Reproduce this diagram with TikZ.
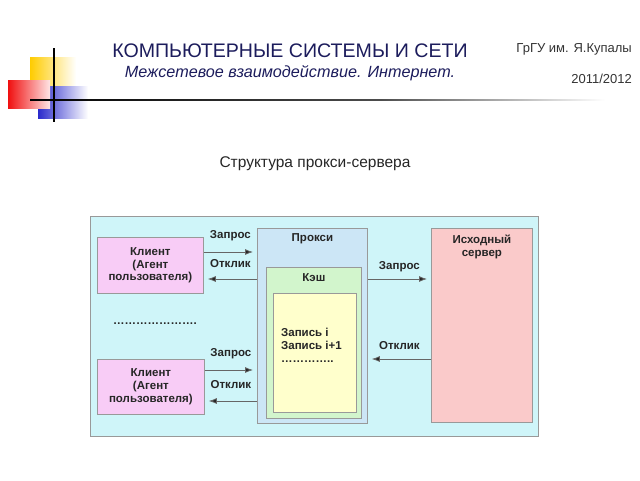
\documentclass[tikz,border=0pt]{standalone}
\usepackage{fontspec}
\setmainfont{Liberation Sans}
\usetikzlibrary{arrows.meta,
	calc,
	positioning}

\definecolor{titleblue}{HTML}{1C1C5C}
\definecolor{logoyellow}{HTML}{FFCC00}
\definecolor{logored}{HTML}{F01010}
\definecolor{logoblue}{HTML}{2A2ACC}
\definecolor{netfill}{HTML}{CFF5F9}
\definecolor{proxyfill}{HTML}{CCE6F6}
\definecolor{cachefill}{HTML}{D2F5CC}
\definecolor{recfill}{HTML}{FFFFCC}
\definecolor{clientfill}{HTML}{F8CCF6}
\definecolor{serverfill}{HTML}{FACACA}

\begin{document}
\begin{tikzpicture}[x=1pt,y=-1pt]
    \tikzstyle{box}=[draw=black!40,line width=0.8pt,inner sep=0pt,anchor=north west]
    \tikzstyle{lbl}=[font=\bfseries\fontsize{11.5}{12.8}\selectfont,text=black!85,align=center,inner sep=0pt]
    \tikzstyle{arr}=[draw=black!60,line width=0.8pt,-{Latex[length=8pt,width=6pt,fill=black!85]},shorten >=4pt]
    \useasboundingbox (0,0) rectangle (640,480);
    % logo
    \shade[left color=logoyellow,right color=white] (30,57) rectangle (76,86);
    \shade[left color=logoblue,right color=white] (38,86) rectangle (88,118);
    \shade[left color=logored,right color=red!10] (8,80) rectangle (50,108);
    \shade[left color=black,right color=black!70] (30,99.2) rectangle (380,100.8);
    \shade[left color=black!70,right color=white] (380,99.2) rectangle (605,100.8);
    \draw[line width=1.4pt] (54,48) -- (54,122);
    % header
    \node[anchor=base,text=titleblue,font=\fontsize{19.6}{24}\selectfont] (title) at (290,57) {КОМПЬЮТЕРНЫЕ СИСТЕМЫ И СЕТИ};
    \node[anchor=base,text=titleblue,font=\itshape\fontsize{16.2}{20}\selectfont] (subtitle) at (290,77) {Межсетевое взаимодействие. Интернет.};
    \node[anchor=base east,text=black!80,font=\fontsize{13}{16}\selectfont,inner sep=0pt] (univ) at (632,52) {ГрГУ им. Я.Купалы};
    \node[anchor=base east,text=black!80,font=\fontsize{13}{16}\selectfont,inner sep=0pt] (year) at (632,83) {2011/2012};
    \node[anchor=base,text=black!85,font=\fontsize{15.5}{18}\selectfont] (caption) at (315,167) {Структура прокси-сервера};

    % diagram
    \node[box,fill=netfill,minimum width=448pt,minimum height=220pt] (net) at (90,216) {};
    \node[box,fill=clientfill,minimum width=106pt,minimum height=56pt] (c1) at (97,237) {};
    \node[lbl] at (c1.center) {Клиент\\(Агент\\пользователя)};
    \node[box,fill=clientfill,minimum width=107pt,minimum height=55pt] (c2) at (97,359) {};
    \node[lbl] at (c2.center) {Клиент\\(Агент\\пользователя)};
    \node[lbl] (dots) at (155,324) {………………….};
    \node[box,fill=proxyfill,minimum width=110pt,minimum height=195pt] (proxy) at (257,228) {};
    \node[lbl,below=5pt of proxy.north] {Прокси};
    \node[box,fill=cachefill,minimum width=95pt,minimum height=151pt] (cache) at (266,267) {};
    \node[lbl,below=6pt of cache.north] {Кэш};
    \node[box,fill=recfill,minimum width=83pt,minimum height=119pt] (rec) at (273,293) {};
    \node[lbl,align=left,anchor=north west] (recs) at (281,328) {Запись i\\Запись i+1\\…………..};
    \node[box,fill=serverfill,minimum width=101pt,minimum height=194pt] (server) at (431,228) {};
    \node[lbl,below=7pt of server.north] {Исходный\\сервер};

    % arrows
    \coordinate (q1) at ($(c1.north east)+(0,15)$);
    \coordinate (r1) at ($(c1.north east)+(0,42)$);
    \coordinate (q2) at ($(c2.north east)+(0,11)$);
    \coordinate (r2) at ($(c2.north east)+(0,42)$);
    \coordinate (qs) at ($(proxy.north east)+(0,51)$);
    \coordinate (rs) at ($(server.north west)+(0,131)$);
    \draw[arr] (q1) -- node[lbl,above=11pt] {Запрос} (q1 -| proxy.west);
    \draw[arr] (r1 -| proxy.west) -- node[lbl,above=11pt] {Отклик} (r1);
    \draw[arr] (q2) -- node[lbl,above=11pt] {Запрос} (q2 -| proxy.west);
    \draw[arr] (r2 -| proxy.west) -- node[lbl,above=12pt] {Отклик} (r2);
    \draw[arr] (qs) -- node[lbl,above=7pt] {Запрос} (qs -| server.west);
    \draw[arr] (rs) -- node[lbl,above=9pt] {Отклик} (rs -| proxy.east);
\end{tikzpicture}
\end{document}
